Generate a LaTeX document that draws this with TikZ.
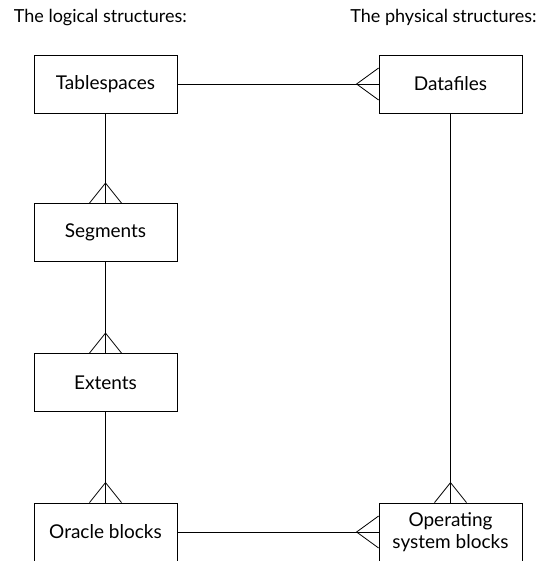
\documentclass[tikz,border=0pt]{standalone}
\usepackage{fontspec}
\setmainfont{Lato}

\begin{document}
\begin{tikzpicture}[x=1pt, y=-1pt, line width=0.8pt,
        entity/.style={draw, fill=white, minimum width=143pt, minimum height=58pt,
            inner sep=0pt, align=center, font=\fontsize{19}{22}\selectfont},
        heading/.style={anchor=base west, inner sep=0pt, font=\fontsize{18}{21}\selectfont}]
        \useasboundingbox (0,0) rectangle (554,561);

        % Headings
        \node[heading] (lh) at (13.5,23) {The logical structures:};
        \node[heading] (ph) at (350,23) {The physical structures:};

        % Logical side
        \node[entity] (ts) at (105.5,84) {Tablespaces};
        \node[entity] (sg) at (105.5,232.5) {Segments};
        \node[entity] (ex) at (105.5,382.5) {Extents};
        \node[entity] (ob) at (105.5,532) {Oracle blocks};

        % Physical side
        \node[entity] (df) at (450.5,84) {Datafiles};
        \node[entity] (os) at (450.5,532) {Operating\\system blocks};

        % Relations
        \draw (ts) -- (sg);
        \draw (sg) -- (ex);
        \draw (ex) -- (ob);
        \draw (ts) -- (df);
        \draw (df) -- (os);
        \draw (ob) -- (os);

        % Crow's feet (many end)
        \draw ([xshift=-16pt]sg.north) -- ([yshift=20pt]sg.north) -- ([xshift=16pt]sg.north);
        \draw ([xshift=-16pt]ex.north) -- ([yshift=20pt]ex.north) -- ([xshift=16pt]ex.north);
        \draw ([xshift=-16pt]ob.north) -- ([yshift=20pt]ob.north) -- ([xshift=16pt]ob.north);
        \draw ([xshift=-16pt]os.north) -- ([yshift=20pt]os.north) -- ([xshift=16pt]os.north);
        \draw ([yshift=-16pt]df.west) -- ([xshift=-22pt]df.west) -- ([yshift=16pt]df.west);
        \draw ([yshift=-16pt]os.west) -- ([xshift=-22pt]os.west) -- ([yshift=16pt]os.west);
\end{tikzpicture}
\end{document}
